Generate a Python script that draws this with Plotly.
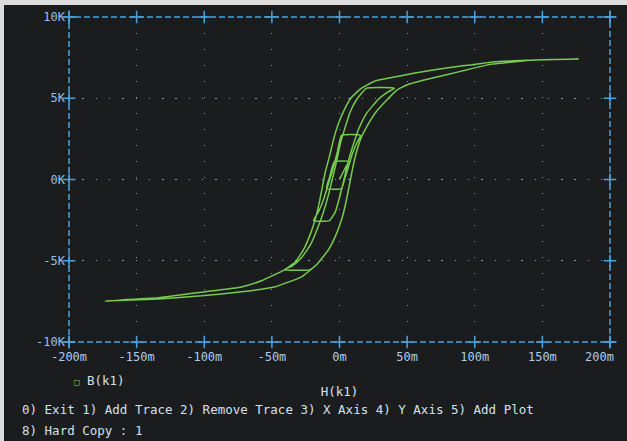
import plotly.graph_objects as go

# H(k1) in milli-units, B(k1) in kilo-units
# major loop, rising branch (lower / right side)
h_rise = [-173.1, -133.9, -102.1, -72.5, -48.1, -28.1, -17.0, -8.1, -2.2, 2.2,
          5.2, 8.1, 11.1, 15.5, 20.7, 27.4, 35.5, 42.2, 51.0, 68.0,
          90.2, 112.4, 144.2, 176.8]
b_rise = [-7.47, -7.35, -7.16, -6.91, -6.61, -5.99, -5.25, -4.32, -3.33, -2.28,
          -1.23, 0.0, 1.23, 2.47, 3.33, 4.20, 4.94, 5.49, 5.86, 6.23,
          6.67, 7.10, 7.35, 7.41]

# major loop, falling branch (upper / left side)
h_fall = [176.8, 144.2, 112.4, 90.2, 68.0, 43.6, 25.9, 16.3, 8.9, 3.7,
          -0.7, -4.4, -7.4, -10.4, -12.6, -14.8, -17.8, -21.4, -26.6, -32.5,
          -40.7, -57.7, -72.5, -99.8, -133.9, -173.1]
b_fall = [7.41, 7.35, 7.22, 6.98, 6.73, 6.36, 6.05, 5.62, 5.06, 4.32,
          3.46, 2.47, 1.42, 0.49, -0.43, -1.36, -2.41, -3.33, -4.32, -5.06,
          -5.56, -6.23, -6.61, -6.91, -7.28, -7.47]

# growing minor loops from the origin out to the -5.6K turn
h_minor = [0.0, 2.2, 4.4, 6.7, -3.7, -5.9, -7.4, -8.9, -9.6,
           1.5, 3.7, 6.7, 9.6, 12.6, 15.5,
           1.5, -1.5, -4.4, -8.1, -11.8, -15.5, -19.2,
           -7.4, -3.0, 0.0, 3.0, 5.9, 9.6, 14.1, 20.0, 28.1, 35.5, 40.7,
           20.0, 13.3, 8.1, 4.4, 0.7, -2.2, -5.2, -8.1, -11.8, -16.3, -21.4,
           -28.1, -34.8, -40.7, -22.2]
b_minor = [0.0, 0.37, 0.74, 1.11, 1.11, 0.62, 0.12, -0.25, -0.56,
           -0.56, 0.0, 0.80, 1.60, 2.22, 2.72,
           2.72, 1.73, 0.80, -0.25, -1.23, -1.98, -2.53,
           -2.53, -1.98, -1.11, -0.12, 0.93, 1.98, 3.09, 4.07, 4.88, 5.37, 5.62,
           5.62, 5.00, 4.20, 3.27, 2.22, 1.11, 0.06, -0.93, -1.98, -3.02, -4.01,
           -4.81, -5.31, -5.56, -5.56]

x_ticks = [-200, -150, -100, -50, 0, 50, 100, 150, 200]
x_labels = ["-200m", "-150m", "-100m", "-50m", "0m", "50m", "100m", "150m", "200m"]
y_ticks = [-10, -5, 0, 5, 10]
y_labels = ["-10K", "-5K", "0K", "5K", "10K"]

FRAME = "#4aa2e0"
DOTS = "#7e9fc0"
TXT = "#d3e1ef"
XLAB = "#a9cdee"
GREEN = "#76cb4e"
MONO = "DejaVu Sans Mono"

# one continuous trace: minor loops, then the full loop
h_all = h_minor + h_rise[6:] + h_fall[1:] + h_rise[1:]
b_all = b_minor + b_rise[6:] + b_fall[1:] + b_rise[1:]

fig = go.Figure()

fig.add_trace(go.Scatter(
    x=h_all, y=b_all, mode="lines", name="B(k1)",
    line=dict(color=GREEN, width=1.5, shape="spline", smoothing=0.4),
    hoverinfo="skip"))

# "+" tick marks on all four edges of the frame
cx = x_ticks + x_ticks + [x_ticks[0]] * len(y_ticks) + [x_ticks[-1]] * len(y_ticks)
cy = [y_ticks[0]] * len(x_ticks) + [y_ticks[-1]] * len(x_ticks) + y_ticks + y_ticks
fig.add_trace(go.Scatter(
    x=cx, y=cy, mode="markers", showlegend=False, hoverinfo="skip", cliponaxis=False,
    marker=dict(symbol="cross-thin", size=9, line=dict(color=FRAME, width=1.5))))

# last x label is pulled in from the edge on the screen, so it is placed separately
fig.update_xaxes(
    range=[x_ticks[0], x_ticks[-1]], tickvals=x_ticks, ticktext=x_labels[:-1] + [""],
    showgrid=True, gridcolor=DOTS, gridwidth=1.4, griddash="1.4px,14.6px",
    zeroline=False, showline=False, ticks="", automargin=False,
    tickfont=dict(family=MONO, size=12, color=XLAB),
    ticklabelstandoff=6,
    title=dict(text="H(k1)", font=dict(family=MONO, size=12.5, color=TXT), standoff=24))
fig.update_yaxes(
    range=[y_ticks[0], y_ticks[-1]], tickvals=y_ticks, ticktext=y_labels,
    showgrid=True, gridcolor=DOTS, gridwidth=1.4, griddash="1.4px,11.9px",
    zeroline=False, showline=False, ticks="", automargin=False,
    tickfont=dict(family=MONO, size=12, color="#8fc0ec"),
    ticklabelstandoff=3)

# the screen photo has a thin light edge top and left: the page shows it,
# so the figure is 4px narrower and 5px shorter than the window
fig.update_layout(
    width=623, height=436,
    margin=dict(l=65, r=17, t=12, b=99, autoexpand=False),
    paper_bgcolor="#1b1c1e", plot_bgcolor="#1b1c1e",
    font=dict(family=MONO, color=TXT),
    showlegend=False,
    shapes=[
        # dashed frame
        dict(type="rect", xref="paper", yref="paper", x0=0, y0=0, x1=1, y1=1,
             line=dict(color=FRAME, width=1.5, dash="6px,3px"), layer="above"),
    ],
    annotations=[
        dict(text=x_labels[-1], xref="x", yref="y", x=x_ticks[-1], y=y_ticks[0],
             xanchor="right", yanchor="middle", xshift=6, yshift=-15,
             showarrow=False, font=dict(family=MONO, size=12, color=XLAB)),
        # trace key, Probe style
        dict(text='<span style="color:%s;font-size:9px">□</span> B(k1)' % GREEN,
             xref="paper", yref="paper", x=0.006, y=-0.117, xanchor="left", yanchor="middle",
             showarrow=False, font=dict(family=MONO, size=12.5, color=TXT)),
        dict(text="0) Exit 1) Add Trace 2) Remove Trace 3) X Axis 4) Y Axis 5) Add Plot",
             xref="paper", yref="paper", x=-0.0906, y=-0.209, xanchor="left", yanchor="middle",
             showarrow=False, font=dict(family=MONO, size=12.5, color=TXT)),
        dict(text="8) Hard Copy : 1",
             xref="paper", yref="paper", x=-0.0906, y=-0.271, xanchor="left", yanchor="middle",
             showarrow=False, font=dict(family=MONO, size=12.5, color=TXT)),
    ],
)

fig.write_html(
    "out.html",
    config={"displayModeBar": False},
    post_script="document.body.style.margin='5px 0 0 4px';"
                "document.body.style.background='#dcdcdc';"
                "document.documentElement.style.background='#dcdcdc';")
